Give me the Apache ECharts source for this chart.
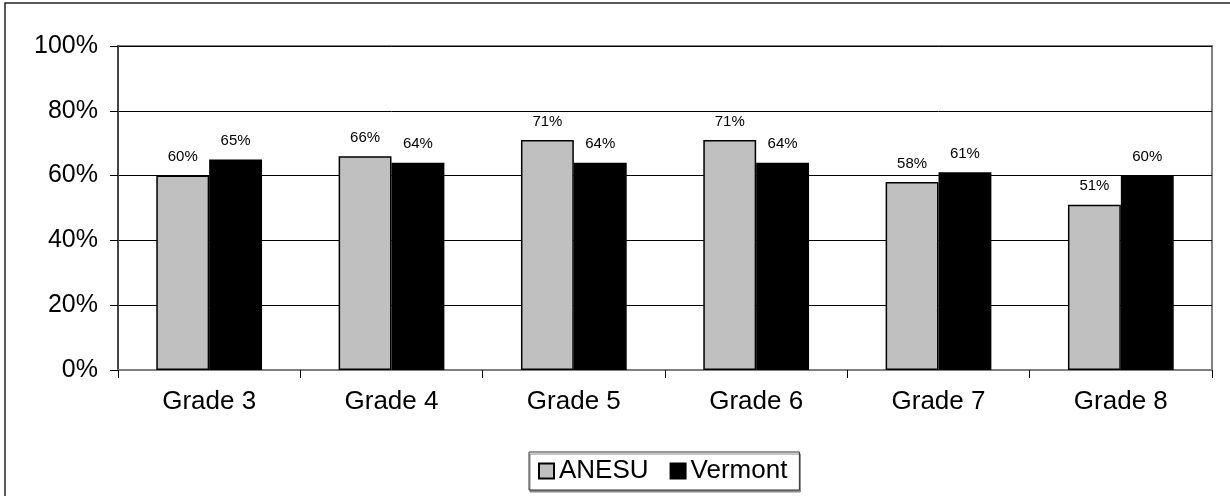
<!DOCTYPE html>
<html>
<head>
<meta charset="utf-8">
<script src="https://cdn.jsdelivr.net/npm/echarts@6/dist/echarts.min.js"></script>
<style>
  html, body { margin: 0; padding: 0; background: #fff; }
  #chart { width: 1230px; height: 496px; }
</style>
</head>
<body>
<div id="chart"></div>
<script>
// Share of students by grade, district vs. state
const categories = ['Grade 3', 'Grade 4', 'Grade 5', 'Grade 6', 'Grade 7', 'Grade 8'];
const anesuValues = [60, 66, 71, 71, 58, 51];
const vermontValues = [65, 64, 64, 64, 61, 60];
const yTicks = { min: 0, max: 100, interval: 20 };

const FONT = 'Arial, "Liberation Sans", sans-serif';

const chart = echarts.init(document.getElementById('chart'), null, { renderer: 'canvas' });

const labelCfg = {
  show: true,
  position: 'top',
  distance: 11,
  formatter: p => p.value + '%',
  color: '#000',
  fontFamily: FONT,
  fontSize: 15
};

chart.setOption({
  animation: false,
  backgroundColor: '#fff',
  graphic: [{
    type: 'rect',
    shape: { x: 5, y: 3, width: 1400, height: 700 },
    style: { fill: 'none', stroke: '#222', lineWidth: 1.5 },
    silent: true,
    z: -1
  }],
  grid: {
    left: 118, right: 18, top: 46, bottom: 126,
    show: true,
    borderColor: '#808080',
    borderWidth: 2
  },
  legend: {
    left: 529,
    top: 452,
    orient: 'horizontal',
    padding: [6, 12, 6, 9],
    itemGap: 21,
    itemWidth: 15,
    itemHeight: 15,
    icon: 'rect',
    borderColor: '#333',
    borderWidth: 1,
    backgroundColor: '#fff',
    shadowColor: '#8a8a8a',
    shadowBlur: 0.01,
    shadowOffsetX: 1,
    shadowOffsetY: 2,
    textStyle: { color: '#000', fontFamily: FONT, fontSize: 26 },
    data: ['ANESU', 'Vermont']
  },
  xAxis: {
    type: 'category',
    data: categories,
    boundaryGap: true,
    axisLine: { show: true, lineStyle: { color: '#808080', width: 2 } },
    axisTick: { show: true, alignWithLabel: false, length: 8, lineStyle: { color: '#000', width: 1 } },
    axisLabel: { color: '#000', fontFamily: FONT, fontSize: 26, margin: 19 },
    splitLine: { show: false }
  },
  yAxis: {
    type: 'value',
    min: yTicks.min,
    max: yTicks.max,
    interval: yTicks.interval,
    axisLine: { show: true, lineStyle: { color: '#444', width: 2 } },
    axisTick: { show: true, length: 8, lineStyle: { color: '#000', width: 1 } },
    axisLabel: { color: '#000', fontFamily: FONT, fontSize: 25, margin: 20, formatter: '{value}%' },
    splitLine: { show: true, lineStyle: { color: '#000', width: 1 } }
  },
  series: [
    {
      name: 'ANESU',
      type: 'bar',
      data: anesuValues,
      barGap: '0%',
      barCategoryGap: '42%',
      itemStyle: { color: '#c0c0c0', borderColor: '#000', borderWidth: 1.5 },
      label: labelCfg
    },
    {
      name: 'Vermont',
      type: 'bar',
      data: vermontValues,
      barGap: '0%',
      barCategoryGap: '42%',
      itemStyle: { color: '#000', borderColor: '#000', borderWidth: 1.5 },
      label: labelCfg
    }
  ]
});
</script>
</body>
</html>
